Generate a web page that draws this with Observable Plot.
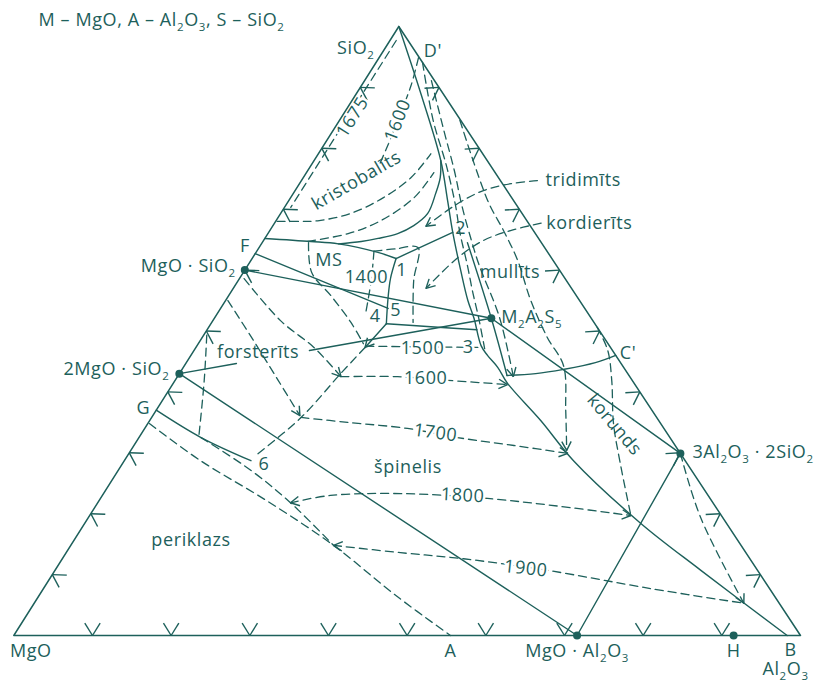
<!DOCTYPE html>
<html><head><meta charset="utf-8">
<script src="https://cdn.jsdelivr.net/npm/d3@7"></script>
<script src="https://cdn.jsdelivr.net/npm/@observablehq/plot@0.6"></script>
<style>html,body{margin:0;padding:0;background:#fff}#chart{width:814px;height:681px}</style>
</head><body><div id="chart"></div>
<script>
// All points are compositions in wt %: [Al2O3, SiO2] (MgO = 100 - both)
const compounds = [
  {name: "MgO · SiO_2", comp: [0, 60]},
  {name: "2MgO · SiO_2", comp: [0, 43]},
  {name: "M_2A_2S_5", comp: [35.2, 52.1]},
  {name: "3Al_2O_3 · 2SiO_2", comp: [70.1, 29.9]},
  {name: "MgO · Al_2O_3", comp: [71.6, 0]},
  {name: "H", comp: [91.5, 0]}
];
const triangle = [[0,0],[100,0],[0,100],[0,0]];
const tickSteps = [10,20,30,40,50,60,70,80,90];

// solid boundary curves
const line1 = [[0,100],[8.4,88.7],[16.1,78.0],[20.2,71.4],[23.4,66.2],[27.5,59.9],[30.8,55.0],[33.0,52.1],[36.1,47.6],[37.7,46.0],[40.0,44.0],[42.5,41.4],[49.7,35.3],[57.1,28.7],[70.7,18.4],[82.1,10.7],[98.3,0]];
const line2 = [[26.1,64.5],[35.2,52.1],[41.8,42.7]];
const curveC = [[41.8,42.7],[45.3,43.0],[48.5,43.7],[52.0,44.8],[54.0,46.0]];
const curveU = [[16.1,78.0],[17.4,75.2],[18.1,72.6],[18.7,69.3],[17.9,67.3],[16.5,66.0],[14.4,65.2],[12.5,64.7],[9.8,64.3]];
const lineF = [[0,65.2],[6.1,64.7],[9.8,64.3],[15.5,62.9],[18.3,61.9]];
const line12 = [[18.3,61.9],[23.4,66.2]];
const line14 = [[18.3,61.9],[19.2,58.6],[20.5,55.3],[22.3,51.2]];
const line5 = [[0,62.7],[21.3,53.7]];
const line45 = [[22.3,51.2],[28.2,50.7],[34.3,50.2]];
const line4down = [[22.3,51.2],[21.5,47.3]];
const curveG = [[0,37],[7.9,32.5],[16.1,28.7]];
const tieLines = [["MgO · SiO_2","M_2A_2S_5"],["M_2A_2S_5","3Al_2O_3 · 2SiO_2"],["2MgO · SiO_2","MgO · Al_2O_3"],["MgO · Al_2O_3","3Al_2O_3 · 2SiO_2"]];
const forsteriteTie = ["2MgO · SiO_2","M_2A_2S_5"];
const forsteriteLabelGap = [0.183, 0.417];

// dashed lines: isotherms and boundaries
const iso1675 = [[0.8,97.7],[0.8,70.3]];
const iso1600k = [[5.0,94.9],[6.3,90.3],[7.4,84.6],[8.1,80.8],[8.7,76.9]];
const dashUa = [[0.2,68.0],[3.2,68.0],[5.3,68.1],[8.9,69.3],[11.8,71.9],[13.7,75.2],[14.3,79.1]];
const dashUb = [[5.7,64.7],[10.2,66.0],[13.3,68.1],[15.7,71.9],[16.2,76.0]];
const dashR1 = [[5.9,94.1],[11.9,84.6],[17.2,77.2],[21.6,70.6],[24.3,66.2],[27.9,60.8],[30.6,56.6],[33.6,52.1],[36.8,47.1]];
const dashR2 = [[8.5,91.1],[14.1,82.9],[18.6,76.4],[22.4,70.6],[26.4,64.9],[29.4,60.8],[36.2,52.2],[42.7,42.5]];
const dashR3 = [[15.3,84.6],[25.3,71.4],[29.7,66.5],[33.9,61.6],[38.8,55.0],[43.9,48.9],[48.2,44.3],[52.1,36.9],[55.4,30.4]];
const dashC = [[49.4,50.6],[52.6,46.8],[55.5,41.9],[59.2,34.8],[63.3,28.2],[68.6,20.0]];
const dashMu = [[70.1,29.9],[77.8,19.4],[90.2,5.3]];
const iso1500 = [[21.5,47.5],[36.0,47.3]];
const iso1600 = [[20.8,42.5],[28.0,42.5],[34.7,41.9],[42.6,41.2]];
const iso1700 = [[19.0,35.8],[25.3,35.0],[33.4,34.0],[40.5,32.5],[48.3,31.2],[55.8,29.9]];
const iso1800 = [[24.5,21.8],[29.0,23.0],[37.8,23.3],[49.2,22.5],[59.1,21.2],[68.8,19.7]];
const iso1900 = [[33.4,14.8],[42.5,13.6],[51.0,12.6],[62.6,10.7],[77.2,7.7],[90.2,5.3]];
const dashP1 = [[0.2,34.8],[9.7,28.7],[21.2,22.2],[33.4,14.8],[45.3,6.6],[55.5,0]];
const dashP2 = [[7.9,32.5],[16.9,27.1],[24.5,21.8],[33.4,14.8]];
const dashL1 = [[0.6,58.6],[8.6,51.7],[15.0,47.3],[20.8,42.5]];
const dashL2 = [[0.3,55.0],[6.8,48.4],[13.1,41.9],[18.7,36.1]];
const dashL3 = [[0.4,49.3],[3.7,41.9],[7.6,32.5]];
const dashL4 = [[21.5,47.3],[20.5,43.0],[19.0,35.8],[16.3,29.6]];
const dashMS = [[5.9,64.5],[8.7,59.6],[13.0,55.8],[17.7,51.4],[21.0,47.9]];
const iso1400a = [[14.9,63.1],[17.5,63.5],[20.2,63.7],[22.3,58.3],[25.6,51.4]];
const iso1400b = [[14.9,63.1],[16.9,58.3],[18.8,53.0]];
const pointerTrid = [[30.0,74.7],[26.9,74.2],[24.0,73.1],[21.7,70.9],[19.5,67.2]];
const pointerKord = [[33.9,67.7],[30.6,66.5],[28.0,64.9],[26.1,62.1],[24.5,57.0]];

// labels
const fieldLabels = [
  {text: "kristobalīts", comp: [7.0,74.7], rotate: -30},
  {text: "tridimīts", comp: [30.0,74.7], anchor: "start", dx: 8},
  {text: "kordierīts", comp: [33.9,67.7], anchor: "start", dx: 5},
  {text: "mullīts", comp: [33.9,59.6]},
  {text: "MS", comp: [9.9,61.6]},
  {text: "forsterīts", comp: [8.3,46.5]},
  {text: "špinelis", comp: [36.6,27.6]},
  {text: "periklazs", comp: [14.9,15.6]},
  {text: "korunds", comp: [59.4,34.6], rotate: 50},
  {text: "1", comp: [20.0,59.9]},
  {text: "2", comp: [24.1,66.8]},
  {text: "4", comp: [20.3,52.4]},
  {text: "5", comp: [22.4,53.4]},
  {text: "6", comp: [18.0,28.2]}
];
const isoLabels = [
  {text: "1675", comp: [1.4,85.1], rotate: -57.7},
  {text: "1600", comp: [7.4,84.6], rotate: -69},
  {text: "1400", comp: [16.0,58.9]},
  {text: "1500", comp: [28.9,47.1]},
  {text: "3", comp: [34.6,47.3]},
  {text: "1600", comp: [31.7,42.2]},
  {text: "1700", comp: [37.3,33.3], rotate: 8},
  {text: "1800", comp: [45.8,23.0], rotate: 3},
  {text: "1900", comp: [59.7,11.0], rotate: 6}
];
const pointLabels = [
  {text: "SiO_2", comp: [0,100], dx: -43, dy: 22},
  {text: "D'", comp: [4.5,95.5], dx: 16, dy: -3},
  {text: "F", comp: [0,65.2], dx: -20, dy: 8},
  {text: "MgO · SiO_2", comp: [0,60], anchor: "end", dx: -9, dy: -4},
  {text: "2MgO · SiO_2", comp: [0,43], anchor: "end", dx: -10, dy: -4},
  {text: "G", comp: [0,37], dx: -13, dy: -2},
  {text: "MgO", comp: [0,0], dx: 17, dy: 16},
  {text: "A", comp: [55.5,0], dy: 16},
  {text: "MgO · Al_2O_3", comp: [71.6,0], dy: 16},
  {text: "H", comp: [91.5,0], dy: 16},
  {text: "B", comp: [100,0], dx: -10, dy: 15},
  {text: "Al_2O_3", comp: [100,0], dx: -15, dy: 34},
  {text: "3Al_2O_3 · 2SiO_2", comp: [70.1,29.9], anchor: "start", dx: 12, dy: -1},
  {text: "C'", comp: [54.0,46.0], anchor: "start", dx: 4, dy: -2},
  {text: "M_2A_2S_5", comp: [35.2,52.1], anchor: "start", dx: 10, dy: -1}
];
const title = "M – MgO, A – Al_2O_3, S – SiO_2";

// ---------- geometry helpers ----------
const INK = "#1d605b";
const SKEW = 0.4894;           // apex offset of the drawn triangle
const XR = [13.3, 800], YR = [635, 26];
const KX = (XR[1]-XR[0])/100, KY = (YR[0]-YR[1])/100;
const X = p => p[0] + SKEW*p[1];
const toPx = p => [XR[0] + KX*X(p), YR[0] - KY*p[1]];
const fromPx = ([px,py]) => { const s = (YR[0]-py)/KY; return [(px-XR[0])/KX - SKEW*s, s]; };
const byName = Object.fromEntries(compounds.map(d => [d.name, d.comp]));
const rowsOf = lines => lines.flatMap((pts, i) => pts.map(p => ({x: X(p), y: p[1], id: i})));

function barb(tip, compassDeg, len) {
  const [tx, ty] = toPx(tip), a = compassDeg*Math.PI/180;
  return {a: tip, b: fromPx([tx + len*Math.sin(a), ty - len*Math.cos(a)])};
}
function arrowHead(prev, end, len = 10, spread = 28) {
  const [x0,y0] = toPx(prev), [x1,y1] = toPx(end);
  const ang = Math.atan2(y1-y0, x1-x0);
  return [-1, 1].map(s => {
    const a = ang + Math.PI + s*spread*Math.PI/180;
    return {a: end, b: fromPx([x1 + len*Math.cos(a), y1 + len*Math.sin(a)])};
  });
}
const head = (line, atStart = false) => atStart ? arrowHead(line[1], line[0]) : arrowHead(line[line.length-2], line[line.length-1]);

// chevrons along the sides (pointing outward)
const chevrons = [
  ...tickSteps.flatMap(t => [barb([t,0], -32, 14.5), barb([t,0], 32, 14.5)]),
  ...tickSteps.flatMap(t => [barb([0,t], 92, 14.5), barb([0,t], 152, 14.5)]),
  ...tickSteps.flatMap(t => [barb([100-t,t], 206.6, 14.5), barb([100-t,t], 266.6, 14.5)])
];
const heads = [
  ...head(pointerTrid), ...head(pointerKord), ...head(dashL1), ...head(dashL2),
  ...head(iso1600), ...head(iso1700), ...head(iso1800), ...head(iso1800, true),
  ...head(iso1900, true), ...head(dashR2), ...head(dashR3), ...head(dashMu), ...head(line4down)
];

const lerp = (p, q, t) => [p[0] + (q[0]-p[0])*t, p[1] + (q[1]-p[1])*t];
const fP = byName[forsteriteTie[0]], fQ = byName[forsteriteTie[1]];
const straightSolid = [
  ...tieLines.map(([a,b]) => [byName[a], byName[b]]),
  [fP, lerp(fP, fQ, forsteriteLabelGap[0])],
  [lerp(fP, fQ, forsteriteLabelGap[1]), fQ],
  line12, line5, line4down
];
const curvedSolid = [line1, line2, curveC, curveU, lineF, line14, line45, curveG];
const dashed = [iso1675, iso1600k, dashUa, dashUb, dashR1, dashR2, dashR3, dashC, dashMu,
  iso1500, iso1600, iso1700, iso1800, iso1900, dashP1, dashP2, dashL1, dashL2, dashL3, dashL4,
  dashMS, iso1400a, iso1400b, pointerTrid, pointerKord];

const FONT = "'Open Sans', sans-serif";
const FS = 18;
const label = (d, extra = {}) => Plot.text([d], {
  x: X(d.comp), y: d.comp[1], text: [d.text],
  dx: d.dx || 0, dy: d.dy || 0, rotate: d.rotate || 0,
  textAnchor: d.anchor || "middle", fill: INK, fontSize: FS, ...extra
});

const plot = Plot.plot({
  width: 814, height: 681,
  margin: 0,
  x: {domain: [0, 100], range: XR, axis: null},
  y: {domain: [0, 100], range: YR, axis: null},
  style: {fontFamily: FONT, background: "#fff", letterSpacing: "0.6px"},
  marks: [
    Plot.line(rowsOf(dashed), {x: "x", y: "y", z: "id", stroke: INK, strokeWidth: 1.3, strokeDasharray: "8,5", curve: "catmull-rom"}),
    Plot.line(rowsOf(straightSolid), {x: "x", y: "y", z: "id", stroke: INK, strokeWidth: 1.4}),
    Plot.line(rowsOf(curvedSolid), {x: "x", y: "y", z: "id", stroke: INK, strokeWidth: 1.4, curve: "catmull-rom"}),
    Plot.link([...chevrons, ...heads], {x1: d => X(d.a), y1: d => d.a[1], x2: d => X(d.b), y2: d => d.b[1], stroke: INK, strokeWidth: 1.4}),
    ...isoLabels.map(d => label(d, {stroke: "#fff", strokeWidth: 5, paintOrder: "stroke"})),
    ...fieldLabels.map(d => label(d)),
    ...pointLabels.map(d => label(d)),
    Plot.line(rowsOf([triangle]), {x: "x", y: "y", stroke: INK, strokeWidth: 1.5}),
    Plot.dot(compounds, {x: d => X(d.comp), y: d => d.comp[1], r: 4, fill: INK}),
    Plot.text([title], {frameAnchor: "top-left", dx: 38, dy: 13, fill: INK, fontSize: FS, textAnchor: "start"})
  ]
});

// subscripts: "_2" -> lowered small digit
plot.querySelectorAll("text").forEach(t => {
  const s = t.textContent;
  if (!s.includes("_")) return;
  while (t.firstChild) t.removeChild(t.firstChild);
  s.split(/_(\d)/).forEach((p, i) => {
    if (!p) return;
    const ts = document.createElementNS("http://www.w3.org/2000/svg", "tspan");
    ts.textContent = p;
    if (i % 2) { ts.setAttribute("font-size", "11.5"); ts.setAttribute("dy", "5"); }
    else if (i > 0) ts.setAttribute("dy", "-5");
    t.appendChild(ts);
  });
});
document.getElementById("chart").appendChild(plot);
</script>
</body></html>
